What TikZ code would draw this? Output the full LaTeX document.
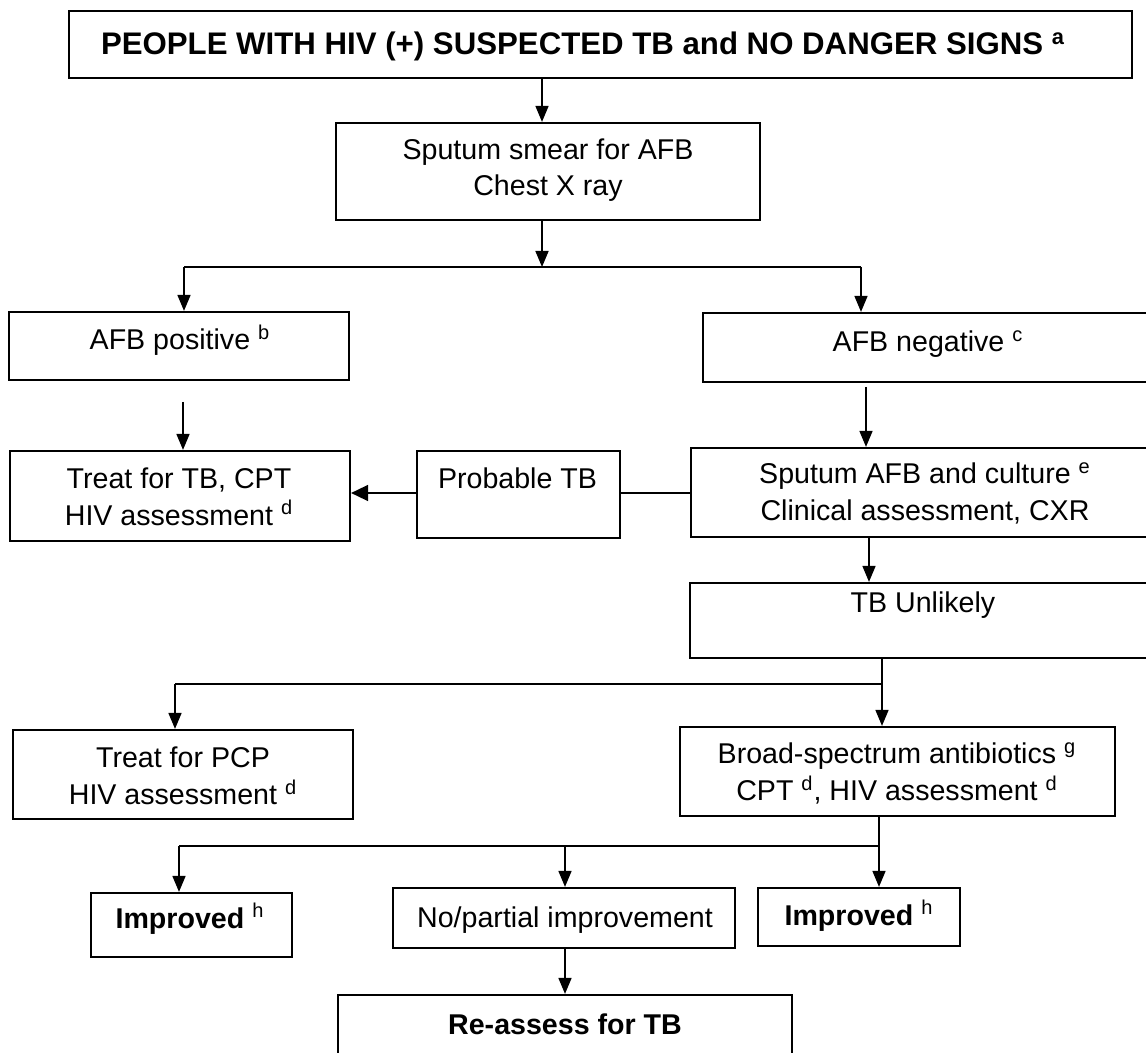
\documentclass[tikz,border=0pt]{standalone}
\usepackage{fontspec}
\setmainfont{Liberation Sans}
\usetikzlibrary{arrows.meta}
\begin{document}
\begin{tikzpicture}[x=0.5pt,y=-0.5pt,
  box/.style={draw, line width=1.1pt, rectangle, inner sep=0pt},
  txt/.style={font=\fontsize{14.3pt}{18.3pt}\selectfont, inner sep=0pt, align=center},
  conn/.style={line width=0.8pt},
  arr/.style={conn, -{Triangle[length=8pt,width=6.5pt]}}
]
\useasboundingbox (0,0) rectangle (1146,1053);
\clip (0,0) rectangle (1146,1053);

% boxes
\node[box, minimum width=531.5pt, minimum height=33.5pt] (top) at (600.5,44.5) {};
\node[box, minimum width=212pt, minimum height=48.5pt] (smear) at (548,171.5) {};
\node[box, minimum width=170pt, minimum height=34pt] (afbpos) at (179,346) {};
\node[box, minimum width=225pt, minimum height=34.5pt] (afbneg) at (928,347.5) {};
\node[box, minimum width=170pt, minimum height=45pt] (treattb) at (180,496) {};
\node[box, minimum width=101.5pt, minimum height=43.5pt] (probtb) at (518.5,494.5) {};
\node[box, minimum width=233.5pt, minimum height=44.5pt] (sputafb) at (924.5,492.5) {};
\node[box, minimum width=234pt, minimum height=37.5pt] (tbunl) at (924,620.5) {};
\node[box, minimum width=170pt, minimum height=44.5pt] (pcp) at (183,774.5) {};
\node[box, minimum width=217.5pt, minimum height=44.5pt] (broad) at (897.5,771.5) {};
\node[box, minimum width=100.5pt, minimum height=32pt] (impL) at (191.5,925) {};
\node[box, minimum width=171pt, minimum height=30pt] (nopart) at (564,918) {};
\node[box, minimum width=101pt, minimum height=29pt] (impR) at (859,917) {};
\node[box, minimum width=227pt, minimum height=40pt] (reass) at (565,1035) {};

% texts
\node[txt, anchor=base, font=\fontsize{15.6pt}{18.3pt}\selectfont] (ttop) at (583,55) {\textbf{PEOPLE WITH HIV (+) SUSPECTED TB and NO DANGER SIGNS \textsuperscript{a}}};
\node[txt] (tsmear) at (548,170) {Sputum smear for AFB\\Chest X ray};
\node[txt, anchor=base] (tafbpos) at (180,350) {AFB positive \textsuperscript{b}};
\node[txt, anchor=base] (tafbneg) at (928,352) {AFB negative \textsuperscript{c}};
\node[txt] (ttreattb) at (179,496.5) {Treat for TB, CPT\\HIV assessment \textsuperscript{d}};
\node[txt, anchor=base] (tprobtb) at (517.5,488) {Probable TB};
\node[txt] (tsputafb) at (925,493.5) {Sputum AFB and culture \textsuperscript{e}\\Clinical assessment, CXR};
\node[txt, anchor=base] (ttbunl) at (923,612) {TB Unlikely};
\node[txt] (tpcp) at (183,776) {Treat for PCP\\HIV assessment \textsuperscript{d}};
\node[txt] (tbroad) at (897,773.5) {Broad-spectrum antibiotics \textsuperscript{g}\\CPT \textsuperscript{d}, HIV assessment \textsuperscript{d}};
\node[txt, anchor=base] (timpL) at (190,928) {\textbf{Improved} \textsuperscript{h}};
\node[txt, anchor=base] (tnopart) at (565,927) {No/partial improvement};
\node[txt, anchor=base] (timpR) at (859,925) {\textbf{Improved} \textsuperscript{h}};
\node[txt, anchor=base] (treass) at (565,1034) {\textbf{Re-assess for TB}};

% connectors
\coordinate (ax) at (542,0);
\coordinate (j1) at (542,267);
\coordinate (j1l) at (184,267);
\coordinate (j1r) at (861,267);
\draw[arr] (top.south -| ax) -- (smear.north -| ax);
\draw[arr] (smear.south -| ax) -- (j1);
\draw[conn] (j1l) -- (j1r);
\draw[arr] (j1l) -- (j1l |- afbpos.north);
\draw[arr] (j1r) -- (j1r |- afbneg.north);

\coordinate (a1) at (183,402);
\draw[arr] (a1) -- (a1 |- treattb.north);
\coordinate (a2) at (866,387);
\draw[arr] (a2) -- (a2 |- sputafb.north);

\coordinate (hy) at (0,493);
\draw[conn] (sputafb.west |- hy) -- (probtb.east |- hy);
\draw[conn, -{Triangle[length=8.5pt,width=8pt]}] (probtb.west |- hy) -- (treattb.east |- hy);

\coordinate (a3) at (869,0);
\draw[arr] (sputafb.south -| a3) -- (tbunl.north -| a3);

\coordinate (j2) at (882,684);
\coordinate (j2l) at (175,684);
\draw[arr] (tbunl.south -| j2) -- (broad.north -| j2);
\draw[conn] (j2l) -- (j2);
\draw[arr] (j2l) -- (j2l |- pcp.north);

\coordinate (j3) at (879,846);
\coordinate (j3l) at (179,846);
\coordinate (j3m) at (565,846);
\draw[arr] (broad.south -| j3) -- (j3 |- impR.north);
\draw[conn] (j3l) -- (j3);
\draw[arr] (j3l) -- (j3l |- impL.north);
\draw[arr] (j3m) -- (j3m |- nopart.north);
\draw[arr] (nopart.south -| j3m) -- (reass.north -| j3m);
\end{tikzpicture}
\end{document}
